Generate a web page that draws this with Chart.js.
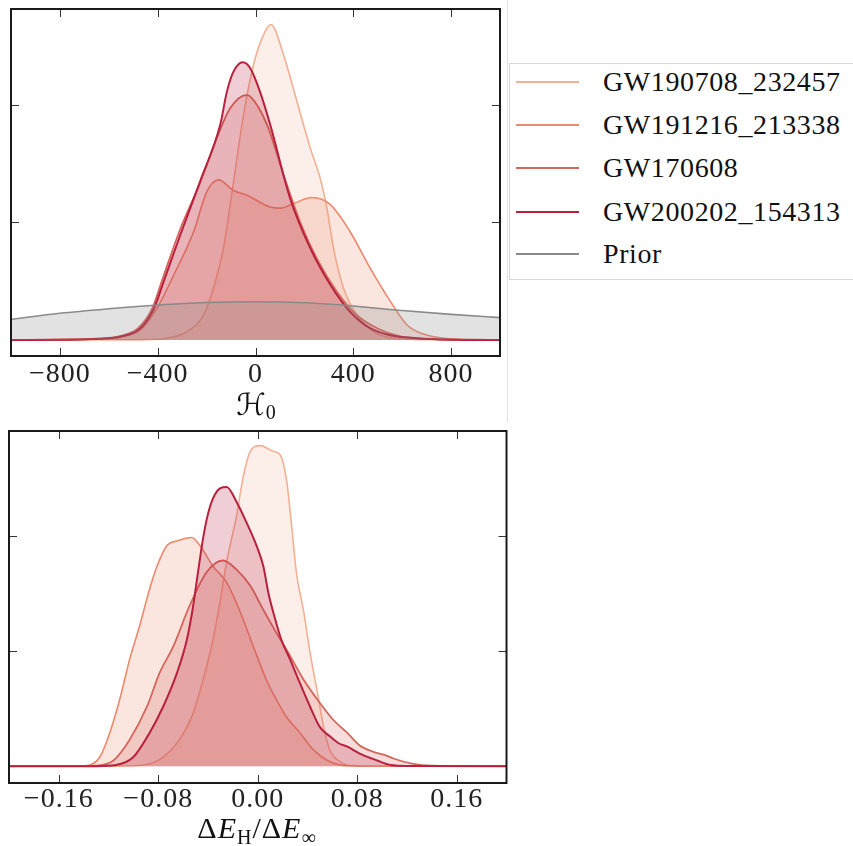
<!DOCTYPE html>
<html>
<head>
<meta charset="utf-8">
<script src="https://cdn.jsdelivr.net/npm/chart.js@4.4.1/dist/chart.umd.min.js"></script>
<style>
  html, body { margin: 0; padding: 0; background: #fff; }
  body { position: relative; width: 853px; height: 846px; overflow: hidden; font-family: "Liberation Serif", "DejaVu Serif", serif; color: #111; }
  canvas { position: absolute; left: 0; }
  #topChart { top: 0; }
  #bottomChart { top: 425px; }
  .axis-title { position: absolute; font-size: 30px; line-height: 30px; white-space: nowrap; transform: translateX(-50%); }
  .axis-title sub { font-size: 20px; vertical-align: -6px; line-height: 0; }
  .axis-title i { font-style: italic; }
  #sep { position: absolute; left: 507px; top: 0; width: 0; height: 422px; border-left: 1px solid #e2e2e2; }
  #legend { position: absolute; left: 509px; top: 63px; width: 360px; height: 215px; border: 1px solid #d6d6d6; background: #fff; }
  .lg-row { position: absolute; left: 0; height: 30px; }
  .lg-line { position: absolute; left: 6px; width: 63px; height: 0; border-top: 2.5px solid; }
  .lg-text { position: absolute; left: 93px; font-size: 28px; letter-spacing: 0.6px; line-height: 30px; white-space: nowrap; color: #111; }
</style>
</head>
<body>
<canvas id="topChart" width="510" height="420"></canvas>
<canvas id="bottomChart" width="510" height="421"></canvas>
<div id="sep"></div>
<div id="legend"></div>
<div class="axis-title" id="titleTop" style="left:256px; top:390px;"><span style="font-family:'DejaVu Serif','DejaVu Sans',serif;">ℋ</span><sub style="vertical-align:-4px">0</sub></div>
<div class="axis-title" id="titleBottom" style="left:257px; top:813px; letter-spacing:1px;">Δ<i>E</i><sub>H</sub>/Δ<i>E</i><sub>∞</sub></div>
<script>
// ---- event names (legend order) ----
const eventNames = ['GW190708_232457', 'GW191216_213338', 'GW170608', 'GW200202_154313', 'Prior'];

// ---- H0 panel ----
const h0TickValues = [-800, -400, 0, 400, 800];
const h0TickLabels = ['\u2212800', '\u2212400', '0', '400', '800'];

const h0X_190708 = [-1000, -600, -450, -362, -281, -213, -172, -131, -90, -49, -8, 30, 63, 115, 169, 224, 265, 292, 319, 360, 415, 483, 564, 700, 1000];
const h0Y_190708 = [0, 0, 0.003, 0.015, 0.07, 0.21, 0.44, 0.78, 1.34, 1.91, 2.34, 2.58, 2.68, 2.42, 2.03, 1.63, 1.37, 1.12, 0.78, 0.44, 0.21, 0.07, 0.015, 0.002, 0];

const h0X_191216 = [-1000, -800, -620, -540, -472, -403, -335, -253, -199, -151, -90, -35, 60, 101, 156, 231, 306, 387, 469, 551, 619, 674, 797, 900, 1000];
const h0Y_191216 = [0, 0.003, 0.01, 0.03, 0.085, 0.27, 0.55, 0.92, 1.26, 1.36, 1.27, 1.23, 1.13, 1.12, 1.16, 1.21, 1.15, 0.92, 0.61, 0.33, 0.13, 0.06, 0.01, 0.003, 0];

const h0X_170608 = [-1000, -800, -640, -550, -480, -420, -380, -310, -230, -150, -103, -38, -22, 47, 115, 183, 251, 333, 415, 497, 592, 700, 850, 1000];
const h0Y_170608 = [0, 0.003, 0.012, 0.035, 0.10, 0.28, 0.52, 0.93, 1.32, 1.76, 1.97, 2.08, 2.07, 1.83, 1.40, 1.00, 0.69, 0.41, 0.21, 0.10, 0.03, 0.01, 0.003, 0];

const h0X_200202 = [-1000, -800, -640, -550, -470, -415, -375, -308, -226, -144, -117, -90, -52, -22, 20, 60, 142, 224, 306, 387, 469, 551, 660, 800, 1000];
const h0Y_200202 = [0, 0.002, 0.01, 0.03, 0.10, 0.27, 0.50, 0.89, 1.35, 1.83, 2.11, 2.28, 2.36, 2.31, 2.10, 1.83, 1.20, 0.78, 0.47, 0.24, 0.10, 0.04, 0.015, 0.003, 0];

const h0X_prior = [-1000, -800, -600, -400, -200, 0, 200, 400, 600, 800, 1000];
const h0Y_prior = [0.176, 0.227, 0.265, 0.297, 0.318, 0.325, 0.316, 0.289, 0.25, 0.218, 0.19];

// ---- Delta E_H / Delta E_inf panel ----
const dETickValues = [-0.16, -0.08, 0, 0.08, 0.16];
const dETickLabels = ['\u22120.16', '\u22120.08', '0.00', '0.08', '0.16'];

const dEX_190708 = [-0.2, -0.11, -0.092, -0.076, -0.063, -0.052, -0.044, -0.036, -0.030, -0.025, -0.017, -0.012, -0.006, 0.002, 0.0126, 0.018, 0.023, 0.027, 0.031, 0.037, 0.042, 0.048, 0.053, 0.058, 0.066, 0.072, 0.09, 0.2];
const dEY_190708 = [0, 0, 0.01, 0.08, 0.23, 0.46, 0.75, 1.10, 1.45, 1.78, 2.18, 2.50, 2.74, 2.79, 2.74, 2.71, 2.50, 2.12, 1.69, 1.34, 0.99, 0.64, 0.34, 0.14, 0.04, 0.01, 0, 0];

const dEX_191216 = [-0.2, -0.145, -0.135, -0.127, -0.119, -0.111, -0.103, -0.095, -0.087, -0.081, -0.073, -0.065, -0.053, -0.0465, -0.036, -0.025, -0.014, -0.0035, 0.007, 0.015, 0.023, 0.034, 0.045, 0.056, 0.066, 0.08, 0.2];
const dEY_191216 = [0, 0, 0.01, 0.08, 0.29, 0.58, 0.93, 1.22, 1.54, 1.74, 1.92, 1.96, 1.99, 1.92, 1.74, 1.60, 1.34, 1.04, 0.75, 0.58, 0.43, 0.29, 0.14, 0.05, 0.01, 0, 0];

const dEX_170608 = [-0.2, -0.14, -0.13, -0.116, -0.103, -0.089, -0.079, -0.068, -0.055, -0.041, -0.028, -0.017, -0.006, 0.0045, 0.015, 0.026, 0.037, 0.050, 0.061, 0.072, 0.082, 0.093, 0.104, 0.109, 0.125, 0.14, 0.2];
const dEY_170608 = [0, 0, 0.005, 0.05, 0.23, 0.52, 0.81, 1.04, 1.39, 1.69, 1.79, 1.71, 1.57, 1.36, 1.16, 0.96, 0.75, 0.55, 0.40, 0.29, 0.18, 0.125, 0.09, 0.067, 0.02, 0.005, 0];

const dEX_200202 = [-0.2, -0.13, -0.114, -0.100, -0.087, -0.076, -0.065, -0.057, -0.052, -0.048, -0.044, -0.041, -0.036, -0.030, -0.025, -0.017, -0.009, -0.001, 0.0045, 0.0085, 0.014, 0.019, 0.026, 0.034, 0.042, 0.050, 0.058, 0.065, 0.072, 0.082, 0.096, 0.107, 0.12, 0.2];
const dEY_200202 = [0, 0, 0.01, 0.08, 0.29, 0.52, 0.81, 1.10, 1.39, 1.69, 1.98, 2.15, 2.33, 2.42, 2.43, 2.30, 2.12, 1.92, 1.74, 1.51, 1.28, 1.10, 0.93, 0.72, 0.52, 0.34, 0.26, 0.20, 0.17, 0.11, 0.05, 0.01, 0.002, 0];

// ---- styling ----
const lineColors = ['#f2b194', '#ea8a6e', '#d5665c', '#b8203e', '#8a8a8a'];
const lineWidths = [1.6, 1.6, 1.8, 2.0, 1.6];
const fillAlpha = [0.22, 0.22, 0.22, 0.22, 0.25];
const drawOrder = [4, 3, 2, 1, 0]; // lower order is painted later (on top)

function rgba(hex, a) {
  const n = parseInt(hex.slice(1), 16);
  return `rgba(${(n >> 16) & 255},${(n >> 8) & 255},${n & 255},${a})`;
}

function curve(idx, xs, ys) {
  return {
    label: eventNames[idx],
    data: xs.map((x, i) => ({ x: x, y: ys[i] })),
    borderColor: lineColors[idx],
    backgroundColor: rgba(lineColors[idx], fillAlpha[idx]),
    borderWidth: lineWidths[idx],
    fill: 'origin',
    order: drawOrder[idx],
    pointRadius: 0,
    cubicInterpolationMode: 'monotone'
  };
}

// slightly wider tick label spacing
const spacingPlugin = {
  id: 'spacing',
  beforeDraw(chart) { chart.ctx.letterSpacing = '1px'; },
  afterDraw(chart) { chart.ctx.letterSpacing = '0px'; }
};

// box frame with inward ticks on all four sides
const framePlugin = {
  id: 'frame',
  afterDraw(chart, args, opts) {
    const { ctx, chartArea: a, scales } = chart;
    const x = scales.x, y = scales.y;
    const L = 8;
    ctx.save();
    ctx.strokeStyle = '#333';
    ctx.lineWidth = 1;
    ctx.beginPath();
    x.ticks.forEach(t => {
      const px = Math.round(x.getPixelForValue(t.value)) + 0.5;
      ctx.moveTo(px, a.bottom); ctx.lineTo(px, a.bottom - L);
      ctx.moveTo(px, a.top); ctx.lineTo(px, a.top + L);
    });
    (opts.yTicks || []).forEach(v => {
      const py = Math.round(y.getPixelForValue(v)) + 0.5;
      ctx.moveTo(a.left, py); ctx.lineTo(a.left + L, py);
      ctx.moveTo(a.right, py); ctx.lineTo(a.right - L, py);
    });
    ctx.stroke();
    ctx.lineWidth = 2;
    ctx.strokeStyle = '#1a1a1a';
    ctx.strokeRect(a.left, a.top, a.right - a.left, a.bottom - a.top);
    ctx.restore();
  }
};

function makePanel(id, datasets, cfg) {
  return new Chart(document.getElementById(id), {
    type: 'line',
    data: { datasets: datasets },
    options: {
      responsive: false,
      animation: false,
      devicePixelRatio: 1,
      layout: { padding: cfg.padding },
      plugins: {
        legend: { display: false },
        tooltip: { enabled: false },
        frame: { yTicks: cfg.yTicks }
      },
      scales: {
        x: {
          type: 'linear',
          min: cfg.xMin,
          max: cfg.xMax,
          grid: { display: false, drawTicks: false },
          border: { display: false },
          afterBuildTicks: s => { s.ticks = cfg.tickValues.map(v => ({ value: v })); },
          afterFit: s => { s.height = cfg.axisHeight; },
          ticks: {
            padding: cfg.labelPad,
            autoSkip: false,
            maxRotation: 0,
            color: '#222',
            font: { family: 'Liberation Serif', size: 28 },
            callback: (v, i) => cfg.tickLabels[i]
          }
        },
        y: { display: false, min: cfg.yMin, max: cfg.yMax }
      }
    },
    plugins: [spacingPlugin, framePlugin]
  });
}

makePanel('topChart', [
  curve(0, h0X_190708, h0Y_190708),
  curve(1, h0X_191216, h0Y_191216),
  curve(2, h0X_170608, h0Y_170608),
  curve(3, h0X_200202, h0Y_200202),
  curve(4, h0X_prior, h0Y_prior)
], {
  xMin: -1000, xMax: 1000, yMin: -0.136, yMax: 2.812,
  tickValues: h0TickValues, tickLabels: h0TickLabels, yTicks: [1, 2],
  padding: { left: 11, right: 10, top: 9, bottom: 0 },
  axisHeight: 64, labelPad: 2
});

makePanel('bottomChart', [
  curve(0, dEX_190708, dEY_190708),
  curve(1, dEX_191216, dEY_191216),
  curve(2, dEX_170608, dEY_170608),
  curve(3, dEX_200202, dEY_200202)
], {
  xMin: -0.2, xMax: 0.2, yMin: -0.146, yMax: 2.917,
  tickValues: dETickValues, tickLabels: dETickLabels, yTicks: [1, 2],
  padding: { left: 9, right: 3.5, top: 6, bottom: 0 },
  axisHeight: 63, labelPad: 0
});

// legend entries
const legend = document.getElementById('legend');
const rowTops = [17.7, 61, 103.7, 147.7, 189.7];
eventNames.forEach((name, i) => {
  const row = document.createElement('div');
  row.className = 'lg-row';
  row.style.top = (rowTops[i] - 15) + 'px';
  const ln = document.createElement('div');
  ln.className = 'lg-line';
  ln.style.top = '14px';
  ln.style.borderTopColor = lineColors[i];
  const tx = document.createElement('div');
  tx.className = 'lg-text';
  tx.style.top = '0px';
  tx.textContent = name;
  row.appendChild(ln);
  row.appendChild(tx);
  legend.appendChild(row);
});
</script>
</body>
</html>
